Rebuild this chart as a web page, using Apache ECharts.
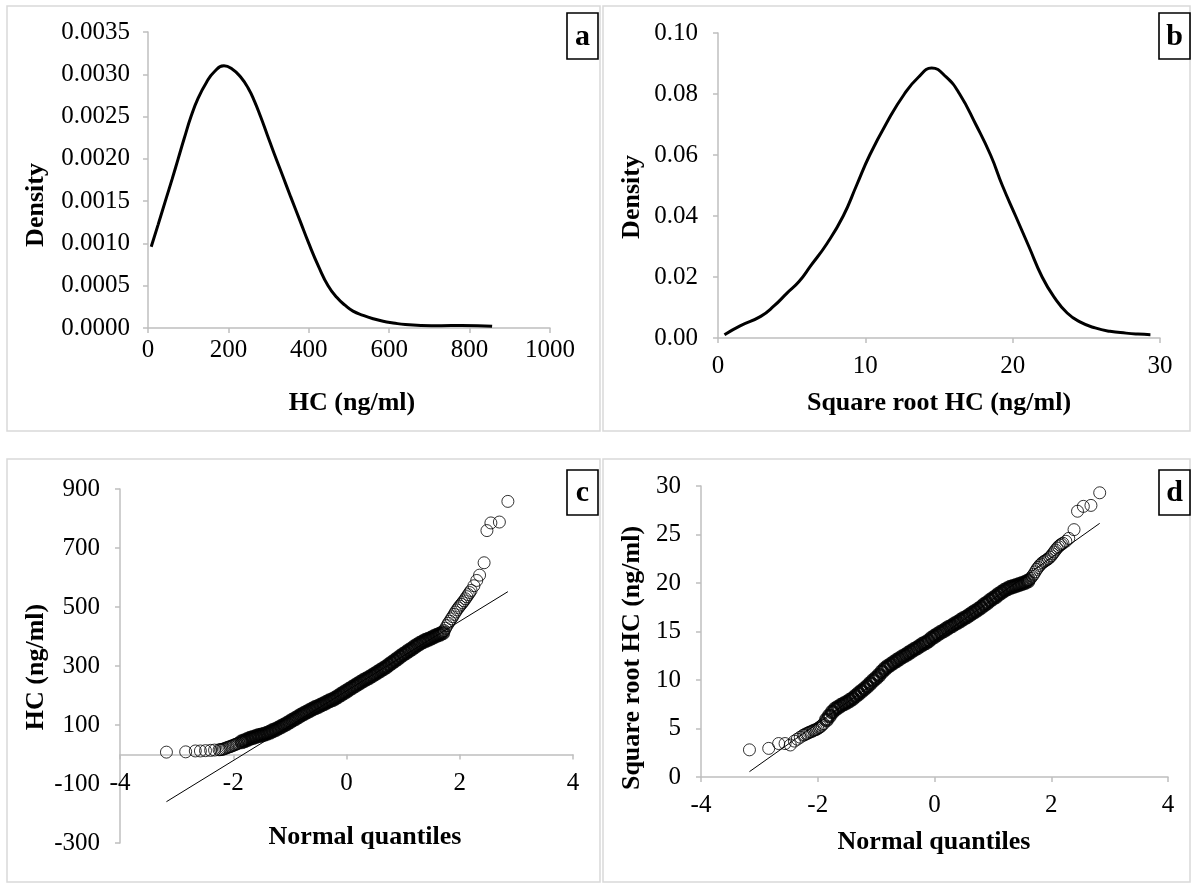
<!DOCTYPE html>
<html>
<head>
<meta charset="utf-8">
<script src="https://cdn.jsdelivr.net/npm/echarts/dist/echarts.min.js"></script>
<style>html,body{margin:0;padding:0;background:#fff}#chart{width:1194px;height:884px}</style>
</head>
<body>
<div id="chart"></div>
<script>
// ---------- data ----------
// (a) density of HC (ng/ml)
const densA_x = [8, 25, 45, 60, 75, 90, 107, 125, 145, 165, 189, 210, 230, 250, 265, 280, 297, 314, 335, 355, 378, 400, 425, 448, 470, 490, 510, 535, 560, 585, 610, 640, 680, 730, 780, 820, 856];
const densA_y = [0.00096, 0.00122, 0.00153, 0.00176, 0.002, 0.00224, 0.0025, 0.00272, 0.0029, 0.00303, 0.0031, 0.00306, 0.00297, 0.00283, 0.00268, 0.0025, 0.00228, 0.00206, 0.0018, 0.00155, 0.00127, 0.001, 0.00072, 0.0005, 0.00036, 0.00027, 0.0002, 0.00015, 0.00011, 0.00008, 0.00006, 0.00004, 0.00003, 0.000028, 0.00003, 0.000028, 0.00002];
// (b) density of square root HC
const densB_x = [0.44, 1.5, 2.9, 3.8, 4.7, 5.5, 6.3, 7.4, 8.5, 9.4, 10.3, 11.5, 12.65, 13.6, 14.5, 15.5, 16.4, 17.5, 18.5, 19.3, 20.2, 21.1, 22.0, 22.8, 23.7, 24.6, 25.6, 26.6, 27.7, 28.5, 29.35];
const densB_y = [0.0011, 0.004, 0.0071, 0.0105, 0.0148, 0.0185, 0.0237, 0.031, 0.04, 0.05, 0.06, 0.071, 0.08, 0.0855, 0.0885, 0.0855, 0.08, 0.07, 0.06, 0.05, 0.04, 0.03, 0.02, 0.0135, 0.0082, 0.0052, 0.0033, 0.0022, 0.0016, 0.0013, 0.0011];
// (c) normal QQ of HC: [normal quantile, HC]
const qqC_low = [[-3.18,8],[-2.84,9],[-2.67,12],[-2.58,12],[-2.49,13],[-2.40,14],[-2.33,15],[-2.25,16],[-2.225,16.5],[-2.20,17],[-2.175,18.5],[-2.15,20],[-2.125,22],[-2.10,24],[-2.075,25.5],[-2.05,27],[-2.025,29],[-2.00,31],[-1.975,33],[-1.95,35],[-1.925,37],[-1.90,39]];
const qqC_body = [[-1.85,43],[-1.80,47],[-1.75,51],[-1.70,55],[-1.65,58],[-1.60,61],[-1.55,64],[-1.50,66],[-1.45,69],[-1.40,72],[-1.35,76],[-1.30,81],[-1.25,85],[-1.20,90],[-1.15,95],[-1.10,100],[-1.05,105],[-1.00,111],[-0.95,117],[-0.90,122],[-0.85,128],[-0.80,134],[-0.75,139],[-0.70,144],[-0.65,149],[-0.60,154],[-0.55,159],[-0.50,163],[-0.45,168],[-0.40,172],[-0.35,177],[-0.30,182],[-0.25,186],[-0.20,191],[-0.15,197],[-0.10,203],[-0.05,209],[0.00,215],[0.05,221],[0.10,227],[0.15,233],[0.20,239],[0.25,245],[0.30,251],[0.35,256],[0.40,261],[0.45,267],[0.50,273],[0.55,279],[0.60,285],[0.65,291],[0.70,297],[0.75,304],[0.80,311],[0.85,318],[0.90,325],[0.95,332],[1.00,339],[1.05,345],[1.10,352],[1.15,358],[1.20,365],[1.25,371],[1.30,377],[1.35,382],[1.40,387],[1.45,391],[1.50,395],[1.55,400],[1.60,404],[1.65,408],[1.70,413]];
const qqC_high = [[1.725,420],[1.75,428],[1.775,437],[1.80,445],[1.825,452],[1.85,460],[1.875,467],[1.90,475],[1.925,483],[1.95,490],[1.975,497],[2.00,503],[2.025,509],[2.05,515],[2.075,521],[2.10,528],[2.125,535],[2.15,542],[2.175,549],[2.20,556],[2.25,572],[2.30,590],[2.35,608],[2.43,650],[2.48,759],[2.55,785],[2.70,788],[2.85,858]];
const qqC_line = [[-3.18,-160],[2.85,552]];
// (d) normal QQ of square root HC
const qqD_low = [[-3.17,2.8],[-2.84,2.95],[-2.67,3.45],[-2.56,3.45],[-2.47,3.3],[-2.40,3.7],[-2.35,3.9],[-2.30,4.1],[-2.25,4.3],[-2.225,4.35],[-2.20,4.45],[-2.175,4.5],[-2.15,4.6],[-2.125,4.65],[-2.10,4.7],[-2.075,4.8],[-2.05,4.85],[-2.025,4.9],[-2.00,5.0],[-1.975,5.1],[-1.95,5.2],[-1.925,5.35],[-1.90,5.5]];
const qqD_body = [[-1.85,5.9],[-1.80,6.3],[-1.75,6.7],[-1.70,7.0],[-1.65,7.2],[-1.60,7.4],[-1.55,7.55],[-1.50,7.7],[-1.45,7.9],[-1.40,8.1],[-1.35,8.35],[-1.30,8.6],[-1.25,8.85],[-1.20,9.1],[-1.15,9.35],[-1.10,9.65],[-1.05,9.95],[-1.00,10.2],[-0.95,10.5],[-0.90,10.85],[-0.85,11.15],[-0.80,11.4],[-0.75,11.6],[-0.70,11.8],[-0.65,12.0],[-0.60,12.2],[-0.55,12.4],[-0.50,12.55],[-0.45,12.75],[-0.40,12.95],[-0.35,13.15],[-0.30,13.3],[-0.25,13.5],[-0.20,13.7],[-0.15,13.85],[-0.10,14.05],[-0.05,14.3],[0.00,14.5],[0.05,14.7],[0.10,14.9],[0.15,15.05],[0.20,15.25],[0.25,15.45],[0.30,15.6],[0.35,15.8],[0.40,15.95],[0.45,16.15],[0.50,16.35],[0.55,16.5],[0.60,16.7],[0.65,16.9],[0.70,17.1],[0.75,17.3],[0.80,17.5],[0.85,17.75],[0.90,17.95],[0.95,18.2],[1.00,18.4],[1.05,18.6],[1.10,18.85],[1.15,19.05],[1.20,19.25],[1.25,19.4],[1.30,19.55],[1.35,19.65],[1.40,19.75],[1.45,19.85],[1.50,19.95],[1.55,20.05],[1.60,20.2]];
const qqD_high = [[1.625,20.35],[1.65,20.5],[1.675,20.7],[1.70,20.9],[1.725,21.15],[1.75,21.4],[1.775,21.6],[1.80,21.8],[1.825,21.95],[1.85,22.1],[1.875,22.2],[1.90,22.3],[1.925,22.4],[1.95,22.5],[1.975,22.65],[2.00,22.8],[2.025,23.0],[2.05,23.2],[2.075,23.4],[2.10,23.6],[2.125,23.75],[2.15,23.9],[2.175,24.0],[2.20,24.1],[2.25,24.3],[2.30,24.6],[2.39,25.5],[2.45,27.4],[2.55,27.9],[2.68,28.0],[2.83,29.3]];
const qqD_line = [[-3.17,0.55],[2.83,26.15]];
// axis texts
const panelLetters = ['a', 'b', 'c', 'd'];
const titleHC = 'HC (ng/ml)';
const titleSqrt = 'Square root HC (ng/ml)';
const titleDensity = 'Density';
const titleQuant = 'Normal quantiles';

// ---------- chart ----------
const F = '"Liberation Serif","Times New Roman",serif';
const AX = '#bfbfbf';
const chart = echarts.init(document.getElementById('chart'), null, {renderer: 'canvas'});

function zip(xs, ys) { return xs.map((x, i) => [x, ys[i]]); }

function axis(opts, labelMargin, fmt) {
  return Object.assign({
    type: 'value',
    axisLine: {show: true, onZero: false, lineStyle: {color: AX, width: 1.5}},
    axisTick: {show: true, length: 5, lineStyle: {color: AX, width: 1.5}},
    splitLine: {show: false},
    axisLabel: {color: '#000', fontFamily: F, fontSize: 25, margin: labelMargin, formatter: fmt || (v => String(v))},
  }, opts);
}

const hollow = (size, bw) => ({
  type: 'scatter', symbol: 'circle', symbolSize: size,
  itemStyle: {color: 'rgba(0,0,0,0)', borderColor: '#000', borderWidth: bw},
  silent: true
});

function panelGraphics() {
  const g = [];
  const borders = [[7, 6, 593, 425], [603, 6, 587, 425], [7, 459, 593, 423], [603, 459, 587, 423]];
  borders.forEach(b => g.push({type: 'rect', shape: {x: b[0], y: b[1], width: b[2], height: b[3]},
    style: {fill: 'none', stroke: '#d9d9d9', lineWidth: 1.5}, silent: true}));
  const boxes = [[567, 13], [1159, 13], [567, 470], [1159, 470]];
  boxes.forEach((b, i) => {
    const h = i < 2 ? 46 : 45;
    g.push({type: 'rect', shape: {x: b[0], y: b[1], width: 31, height: h},
      style: {fill: '#fff', stroke: '#000', lineWidth: 1.6}, silent: true});
    g.push({type: 'text', x: b[0] + 15.5, y: b[1] + h / 2 + 1,
      style: {text: panelLetters[i], font: 'bold 30px ' + F, fill: '#000', align: 'center', verticalAlign: 'middle'}, silent: true});
  });
  const tf = 'bold 26px ' + F;
  const titles = [
    [titleHC, 352, 403, 0], [titleSqrt, 939, 403, 0], [titleQuant, 365, 837, 0], [titleQuant, 934, 842, 0],
    [titleDensity, 36, 205, 1], [titleDensity, 632, 197, 1], [titleHC, 36, 667, 1], [titleSqrt, 632, 658, 1]
  ];
  titles.forEach(t => g.push({type: 'text', x: t[1], y: t[2], rotation: t[3] ? Math.PI / 2 : 0,
    style: {text: t[0], font: tf, fill: '#000', align: 'center', verticalAlign: 'middle'}, silent: true}));
  return g;
}

const option = {
  animation: false,
  backgroundColor: '#fff',
  grid: [
    {left: 148, top: 32, width: 402, height: 296},
    {left: 718, top: 33, width: 442, height: 305},
    {left: 120, top: 489, width: 453, height: 354},
    {left: 701, top: 486, width: 467, height: 291}
  ],
  xAxis: [
    axis({gridIndex: 0, min: 0, max: 1000, interval: 200}, 10),
    axis({gridIndex: 1, min: 0, max: 30, interval: 10}, 16),
    // panel c: the x axis crosses the y axis at HC = 0 (offset = 300/1200 of the grid height)
    axis({gridIndex: 2, min: -4, max: 4, interval: 2, offset: -88.5}, 16),
    axis({gridIndex: 3, min: -4, max: 4, interval: 2}, 16)
  ],
  yAxis: [
    axis({gridIndex: 0, min: 0, max: 0.0035, interval: 0.0005}, 18, v => v.toFixed(4)),
    axis({gridIndex: 1, min: 0, max: 0.1, interval: 0.02}, 20, v => v.toFixed(2)),
    axis({gridIndex: 2, min: -300, max: 900, interval: 200}, 20, v => String(Math.round(v))),
    axis({gridIndex: 3, min: 0, max: 30, interval: 5}, 20, v => String(Math.round(v)))
  ],
  series: [
    {type: 'line', xAxisIndex: 0, yAxisIndex: 0, data: zip(densA_x, densA_y), smooth: 0.5, showSymbol: false,
      lineStyle: {color: '#000', width: 3}, silent: true},
    {type: 'line', xAxisIndex: 1, yAxisIndex: 1, data: zip(densB_x, densB_y), smooth: 0.5, showSymbol: false,
      lineStyle: {color: '#000', width: 3}, silent: true},
    {type: 'line', xAxisIndex: 2, yAxisIndex: 2, data: qqC_line, showSymbol: false,
      lineStyle: {color: '#000', width: 1}, silent: true},
    Object.assign(hollow(12, 1), {xAxisIndex: 2, yAxisIndex: 2, data: qqC_low}),
    Object.assign(hollow(12, 3), {xAxisIndex: 2, yAxisIndex: 2, data: qqC_body}),
    Object.assign(hollow(12, 1), {xAxisIndex: 2, yAxisIndex: 2, data: qqC_high}),
    {type: 'line', xAxisIndex: 3, yAxisIndex: 3, data: qqD_line, showSymbol: false,
      lineStyle: {color: '#000', width: 1}, silent: true},
    Object.assign(hollow(12, 1), {xAxisIndex: 3, yAxisIndex: 3, data: qqD_low}),
    Object.assign(hollow(12, 3), {xAxisIndex: 3, yAxisIndex: 3, data: qqD_body}),
    Object.assign(hollow(12, 1), {xAxisIndex: 3, yAxisIndex: 3, data: qqD_high})
  ],
  graphic: panelGraphics()
};
chart.setOption(option);
</script>
</body>
</html>
